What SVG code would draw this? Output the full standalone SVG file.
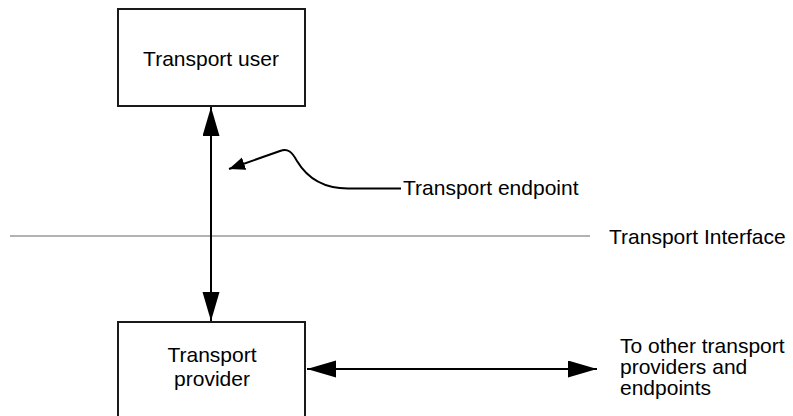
<svg xmlns="http://www.w3.org/2000/svg" width="793" height="416" viewBox="0 0 793 416">
  <defs>
    <style>
      .box { fill: #ffffff; stroke: #1a1a1a; stroke-width: 2; }
      .lbl { font-family: "Liberation Sans", Arial, sans-serif; font-size: 21px; fill: #000000; }
      .conn { fill: none; stroke: #000000; stroke-width: 2; }
      .iface { stroke: #999999; stroke-width: 1.5; }
    </style>
    <marker id="big" markerUnits="userSpaceOnUse" markerWidth="30" markerHeight="18" refX="29" refY="8.5" orient="auto-start-reverse" viewBox="0 0 30 18">
      <path d="M0,0 L29,8.5 L0,17 Z" fill="#000000"/>
    </marker>
    <marker id="small" markerUnits="userSpaceOnUse" markerWidth="17" markerHeight="14" refX="16" refY="6.5" orient="auto" viewBox="0 0 17 14">
      <path d="M0,0 L16,6.5 L0,13 Z" fill="#000000"/>
    </marker>
  </defs>
  <rect width="793" height="416" fill="#ffffff"/>

  <g id="interface">
    <line class="iface" x1="10" y1="236" x2="590" y2="236"/>
    <text class="lbl" x="609" y="244">Transport Interface</text>
  </g>

  <g id="connectors">
    <line class="conn" x1="211" y1="107" x2="211" y2="321" marker-start="url(#big)" marker-end="url(#big)"/>
    <line class="conn" x1="307" y1="369" x2="597" y2="369" marker-start="url(#big)" marker-end="url(#big)"/>
    <path class="conn" d="M401,188.5 H348 C322,188.5 306,176 297,161 C292,152 288,148 280,151 L229,169" marker-end="url(#small)"/>
  </g>

  <g id="transport-user">
    <rect class="box" x="118" y="9" width="187" height="97"/>
    <text class="lbl" x="211" y="66" text-anchor="middle">Transport user</text>
  </g>

  <g id="transport-endpoint">
    <text class="lbl" x="403" y="195">Transport endpoint</text>
  </g>

  <g id="transport-provider">
    <rect class="box" x="118" y="322" width="187" height="100"/>
    <text class="lbl" x="212" y="362" text-anchor="middle">Transport</text>
    <text class="lbl" x="212" y="386" text-anchor="middle">provider</text>
  </g>

  <g id="other-providers">
    <text class="lbl" x="620" y="353">To other transport</text>
    <text class="lbl" x="620" y="374">providers and</text>
    <text class="lbl" x="620" y="395">endpoints</text>
  </g>
</svg>
